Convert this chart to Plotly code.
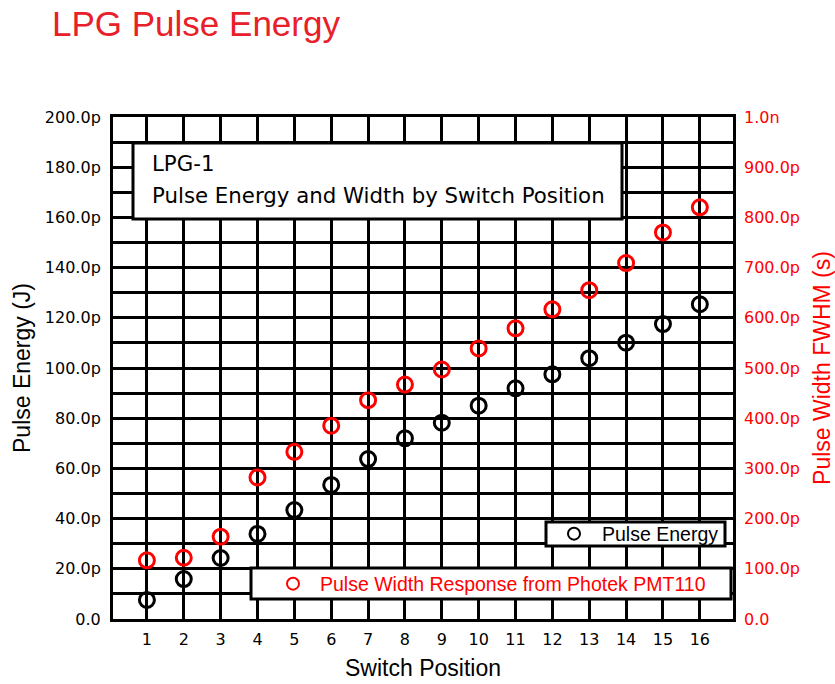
import plotly.graph_objects as go

# Switch positions and measured values
switch_pos = list(range(1, 17))
pulse_energy_pj = [7.6, 15.9, 24.3, 33.9, 43.4, 53.4, 63.7, 72.0,
                   78.2, 85.0, 91.9, 97.5, 103.9, 110.1, 117.5, 125.4]
pulse_width_ps = [117, 122, 164, 282, 333, 385, 436, 467,
                  497, 539, 579, 617, 655, 709, 770, 820]

# Axis ticks
energy_tick_pj = list(range(0, 201, 10))
energy_tick_text = ["0.0" if v == 0 else (f"{v:.1f}p" if v % 20 == 0 else "")
                    for v in energy_tick_pj]
width_tick_ps = list(range(0, 1001, 100))
width_tick_text = ["0.0"] + [f"{v:.1f}p" for v in width_tick_ps[1:-1]] + ["1.0n"]

RED = "#ff0000"
TICK_FONT = "DejaVu Sans"
ARIAL = "Liberation Sans"

energy_j = [v * 1e-12 for v in pulse_energy_pj]
width_s = [v * 1e-12 for v in pulse_width_ps]

fig = go.Figure()
fig.add_trace(go.Scatter(
    x=switch_pos, y=energy_j, mode="markers", name="Pulse Energy",
    marker=dict(symbol="circle-open", size=15, color="black",
                line=dict(width=3, color="black")),
    legend="legend", yaxis="y", showlegend=True,
))
fig.add_trace(go.Scatter(
    x=switch_pos, y=width_s, mode="markers",
    name="Pulse Width Response from Photek PMT110",
    marker=dict(symbol="circle-open", size=15, color=RED,
                line=dict(width=3, color=RED)),
    legend="legend2", yaxis="y2", showlegend=True,
))

# plot-area geometry in pixels, used to place boxes in paper units
L, R, T, B = 113, 733, 117, 619
W, H = R - L, B - T


def px(x):
    return (x - L) / W


def py(y):
    return (B - y) / H


shapes = [
    # caption box
    dict(type="rect", xref="paper", yref="paper",
         x0=px(133), x1=px(622), y0=py(219), y1=py(143),
         fillcolor="white", line=dict(color="black", width=3), layer="above"),
    # legend boxes
    dict(type="rect", xref="paper", yref="paper",
         x0=px(546), x1=px(725), y0=py(546), y1=py(522),
         fillcolor="white", line=dict(color="black", width=3), layer="above"),
    dict(type="rect", xref="paper", yref="paper",
         x0=px(251), x1=px(731), y0=py(599), y1=py(568),
         fillcolor="white", line=dict(color="black", width=3), layer="above"),
]

annotations = [
    dict(text="LPG-1", xref="paper", yref="paper", x=px(150), y=py(163),
         xanchor="left", yanchor="middle", showarrow=False,
         font=dict(family=TICK_FONT, size=21.3, color="black")),
    dict(text="Pulse Energy and Width by Switch Position", xref="paper",
         yref="paper", x=px(150), y=py(195), xanchor="left", yanchor="middle",
         showarrow=False, font=dict(family=TICK_FONT, size=21.3, color="black")),
]

grid = dict(showgrid=True, gridcolor="black", gridwidth=3,
            showline=True, linecolor="black", linewidth=3, mirror=True,
            zeroline=False, ticks="")

fig.update_layout(
    width=835, height=684,
    margin=dict(l=L, r=835 - R, t=T, b=684 - B, autoexpand=False),
    paper_bgcolor="white", plot_bgcolor="white",
    showlegend=True,
    title=dict(text="LPG Pulse Energy", x=52 / 835, xanchor="left",
               xref="container", y=1 - 24 / 684, yref="container",
               yanchor="middle",
               font=dict(family=ARIAL, size=35, color="#e8202a")),
    xaxis=dict(range=[0.08, 16.9], tickmode="array", tickvals=switch_pos,
               ticktext=[str(v) for v in switch_pos],
               tickfont=dict(family=TICK_FONT, size=16, color="black"),
               ticklabelstandoff=4,
               title=dict(text="Switch Position", standoff=12,
                          font=dict(family=ARIAL, size=23, color="black")),
               **grid),
    yaxis=dict(range=[0, 200e-12], tickmode="array",
               tickvals=[v * 1e-12 for v in energy_tick_pj],
               ticktext=energy_tick_text,
               tickfont=dict(family=TICK_FONT, size=16, color="black"),
               ticklabelstandoff=6,
               title=dict(text="Pulse Energy (J)", standoff=8,
                          font=dict(family=ARIAL, size=23, color="black")),
               **grid),
    yaxis2=dict(range=[0, 1e-9], overlaying="y", side="right",
                tickmode="array", tickvals=[v * 1e-12 for v in width_tick_ps],
                ticktext=width_tick_text, showgrid=False, zeroline=False,
                ticks="", ticklabelstandoff=10,
                tickfont=dict(family=TICK_FONT, size=16, color=RED),
                title=dict(text="Pulse Width FWHM (s)", standoff=15,
                           font=dict(family=ARIAL, size=23, color=RED))),
    legend=dict(x=px(546), y=py(534), xanchor="left", yanchor="middle",
                bgcolor="rgba(0,0,0,0)", borderwidth=0, itemwidth=46,
                itemsizing="constant",
                font=dict(family=ARIAL, size=19.5, color="black")),
    legend2=dict(x=px(266), y=py(584), xanchor="left", yanchor="middle",
                 bgcolor="rgba(0,0,0,0)", borderwidth=0, itemwidth=44,
                 itemsizing="constant",
                 font=dict(family=ARIAL, size=19.5, color=RED)),
    shapes=shapes,
    annotations=annotations,
)

fig.write_html("out.html")
